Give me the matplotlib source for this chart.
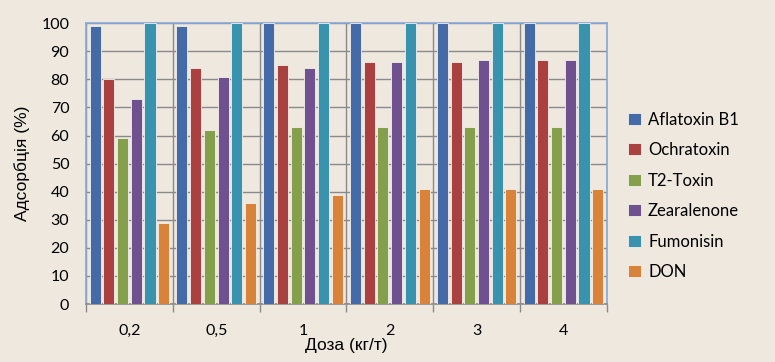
import numpy as np
import matplotlib.pyplot as plt

# data
doses = ["0,2", "0,5", "1", "2", "3", "4"]
toxins = ["Aflatoxin B1", "Ochratoxin", "T2-Toxin", "Zearalenone", "Fumonisin", "DON"]
aflatoxin = [99, 99, 100, 100, 100, 100]
ochratoxin = [80, 84, 85, 86, 86, 87]
t2toxin = [59, 62, 63, 63, 63, 63]
zearalenone = [73, 81, 84, 86, 87, 87]
fumonisin = [100, 100, 100, 100, 100, 100]
don = [29, 36, 39, 41, 41, 41]

series = [aflatoxin, ochratoxin, t2toxin, zearalenone, fumonisin, don]
colors = ["#456aa8", "#aa4040", "#84a04c", "#6f518f", "#3992ae", "#d8823a"]

bg = "#eee8df"
fig = plt.figure(figsize=(7.75, 3.62), dpi=100, facecolor=bg)
ax = fig.add_axes([0.111, 0.160, 0.672, 0.776], facecolor=bg)

x = np.arange(len(doses))
pitch = 0.158   # bar spacing inside a group
w = 0.127       # bar width
for k in range(len(series)):
    ax.bar(x + (k - 2.5) * pitch, series[k], width=w, color=colors[k],
           edgecolor="#f4f0ea", linewidth=0.6, label=toxins[k], zorder=3)

ax.set_xlim(-0.5, len(doses) - 0.5)
ax.set_ylim(0, 100)
ax.set_yticks(np.arange(0, 101, 10))
ax.set_xticks(x)
ax.set_xticklabels(doses)
ax.set_xticks(np.arange(-0.5, len(doses), 1.0), minor=True)

#grid lines
ax.grid(axis="y", color="#8a8a8a", linewidth=1.0, zorder=1)
ax.grid(axis="x", which="minor", color="#8a8a8a", linewidth=1.0, zorder=1)
ax.tick_params(axis="x", which="major", length=0, pad=14, labelsize=11.5)
ax.tick_params(axis="x", which="minor", length=6, color="#8a8a8a", width=1.0)
ax.tick_params(axis="y", length=0, pad=12, labelsize=11.5)
for lab in ax.get_xticklabels() + ax.get_yticklabels():
    lab.set_family("Lato")

for s in ["top", "right", "left"]:
    ax.spines[s].set_color("#86a8d8")
    ax.spines[s].set_linewidth(1.2)
ax.spines["bottom"].set_color("#8a8a8a")
ax.spines["bottom"].set_linewidth(1.2)

ax.set_xlabel("Доза (кг/т)", fontsize=12.5, family="Liberation Sans", labelpad=0)
ax.set_ylabel("Адсорбція (%)", fontsize=12.5, family="Liberation Sans", labelpad=8)

leg = fig.legend(loc="upper left", bbox_to_anchor=(0.791, 0.733), frameon=False,
                 prop={"family": "Lato", "size": 12}, handlelength=0.75,
                 handleheight=0.75, handletextpad=0.45, labelspacing=0.87)

fig.savefig("out.png", dpi=100, facecolor=bg)
